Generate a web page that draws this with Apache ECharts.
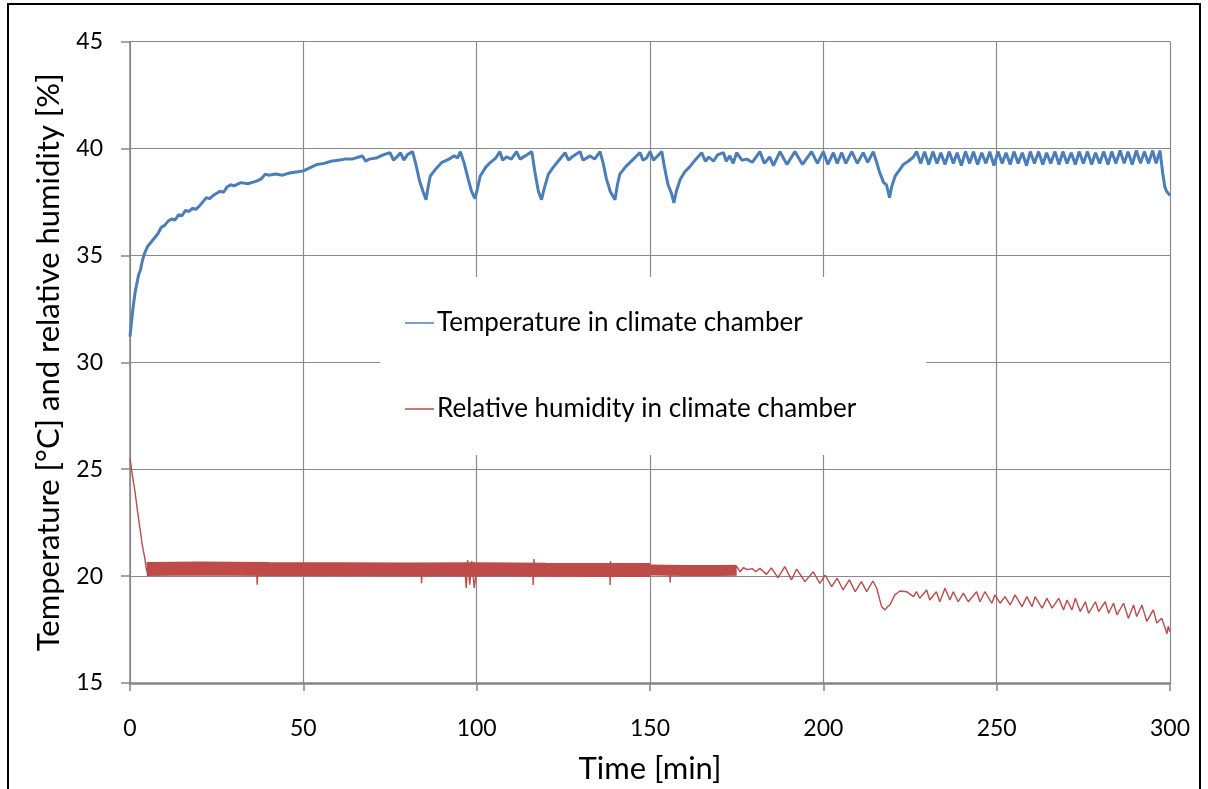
<!DOCTYPE html>
<html>
<head>
<meta charset="utf-8">
<script src="https://cdn.jsdelivr.net/npm/echarts@6/dist/echarts.min.js"></script>
<style>
html,body{margin:0;padding:0;background:#fff;}
#chart{width:1208px;height:789px;}
</style>
</head>
<body>
<div id="chart"></div>
<script>
// ---- data (time in minutes) ----
const xTicks = [0, 50, 100, 150, 200, 250, 300];
const yTicks = [15, 20, 25, 30, 35, 40, 45];
const seriesNames = ['Temperature in climate chamber', 'Relative humidity in climate chamber'];

const temperature = [
[0,31.2],[0.5,32.0],[1,32.7],[1.5,33.3],[2,33.7],[2.5,34.1],[3,34.3],[3.5,34.7],[4,35.0],[4.5,35.2],[5,35.4],[6,35.6],[7,35.8],[8,36.0],[9,36.3],[10,36.4],[11,36.6],[12,36.7],[13,36.65],[14,36.9],[15,36.85],[16,37.1],[17,37.05],[18,37.2],[19,37.15],[20,37.3],[21,37.5],[22,37.7],[23,37.65],[24,37.8],[25,37.9],[26,38.0],[27,37.95],[28,38.2],[29,38.3],[30,38.25],[32,38.4],[34,38.35],[36,38.45],[37,38.5],[38,38.6],[39,38.8],[40,38.75],[42,38.8],[44,38.75],[46,38.85],[48,38.9],[50,38.95],[52,39.1],[54,39.25],[56,39.3],[58,39.4],[60,39.45],[62,39.5],[64,39.5],[66,39.6],[67,39.65],[68,39.4],[69,39.5],[71,39.55],[73,39.7],[75,39.8],[76,39.45],[77,39.6],[78,39.8],[79,39.45],[80,39.7],[81.5,39.85],[82.4,39.3],[83.5,38.5],[84.5,38.0],[85.4,37.6],[86,38.2],[86.6,38.7],[88,39.0],[90,39.35],[92,39.5],[93.5,39.65],[94.5,39.55],[95.3,39.85],[96.4,39.3],[97.5,38.6],[98.5,38.0],[99.5,37.65],[100.2,38.1],[101,38.7],[102.5,39.1],[104,39.35],[105.5,39.55],[106.7,39.85],[107.5,39.45],[108.6,39.6],[110,39.5],[111.5,39.85],[112.5,39.5],[114,39.65],[115.9,39.85],[116.8,38.9],[117.8,38.0],[118.7,37.6],[119.6,38.2],[120.7,38.8],[122,39.1],[123.5,39.4],[125.5,39.8],[126.5,39.45],[127.5,39.6],[129.8,39.85],[130.7,39.45],[132.7,39.65],[134,39.5],[135.6,39.85],[136.5,39.3],[137.4,38.6],[138.5,38.0],[139.9,37.6],[140.6,38.3],[141.3,38.8],[143,39.15],[145.2,39.5],[147.1,39.8],[148,39.45],[149,39.55],[150,39.85],[151,39.45],[151.9,39.6],[153.4,39.85],[154.2,39.1],[155.2,38.3],[156.2,37.9],[156.9,37.45],[157.6,38.0],[158.7,38.55],[160,38.9],[161.5,39.15],[163,39.45],[164.9,39.8],[166,39.4],[167,39.6],[168.3,39.4],[169.5,39.7],[171.2,39.8],[172,39.4],[173,39.65],[174,39.3],[175,39.8],[176.5,39.45],[177.9,39.5],[179.5,39.35],[181.7,39.85],[183,39.3],[184.5,39.6],[185.6,39.2],[187.5,39.85],[189.5,39.25],[191.8,39.85],[194,39.25],[196.6,39.85],[198.3,39.3],[200,39.85],[201.3,39.25],[202.9,39.8],[204,39.3],[205.3,39.8],[206.5,39.3],[208.2,39.85],[209.8,39.3],[211.5,39.8],[212.8,39.35],[214.4,39.85],[215.3,39.4],[216.2,38.9],[217.4,38.4],[218.2,38.3],[219.1,37.7],[219.7,38.2],[220.7,38.7],[222,39.0],[223.1,39.25],[224.5,39.4],[226,39.6],[226.9,39.85],
[228.1,39.3],[229.2,39.85],[230.4,39.25],[231.6,39.85],[232.8,39.3],[233.9,39.8],[235.1,39.25],[236.3,39.85],[237.5,39.3],[238.6,39.8],[239.8,39.2],[241.0,39.85],[242.2,39.3],[243.3,39.85],[244.5,39.25],[245.7,39.8],[246.9,39.3],[248.0,39.85],[249.2,39.2],[250.4,39.85],[251.6,39.3],[252.7,39.8],[253.9,39.25],[255.0,39.85],[256.2,39.3],[257.4,39.8],[258.6,39.2],[259.7,39.85],[260.9,39.3],[262.1,39.85],[263.3,39.25],[264.4,39.8],[265.6,39.3],[266.8,39.85],[268.0,39.25],[269.1,39.85],[270.3,39.3],[271.5,39.8],[272.7,39.25],[273.8,39.85],[275.0,39.3],[276.2,39.85],[277.4,39.25],[278.5,39.8],[279.7,39.3],[280.9,39.85],[282.1,39.25],[283.2,39.85],[284.4,39.3],[285.6,39.9],[286.8,39.3],[287.9,39.85],[289.1,39.25],[290.3,39.9],[291.5,39.3],[292.6,39.85],[293.8,39.3],[295.0,39.9],[296.0,39.3],[297.1,39.9],[297.9,38.85],[298.5,38.2],[299.0,38.0],[299.5,37.9],[300,37.8]
];

// dense fluctuating humidity band (5-150 min and 150-175 min), centre values
const humidityBandA = [[4.8,20.33],[20,20.35],[40,20.33],[60,20.32],[80,20.31],[100,20.32],[120,20.3],[140,20.29],[150,20.28]];
const humidityBandB = [[150,20.28],[160,20.26],[170,20.26],[175,20.27]];

const humidity = [
[0,25.5],[0.7,24.7],[1.4,24.0],[2.2,23.0],[2.9,22.2],[3.5,21.5],[4.2,20.9],[4.8,20.25],[5.5,20.2],[6,20.3],
[36.5,20.3],[36.7,19.6],[36.9,20.3],[84,20.3],[84.1,19.66],[84.3,20.3],[96.6,20.3],[97,19.45],[97.4,20.75],[98,19.6],[98.6,20.7],[99.3,19.45],[100,20.3],
[116.2,20.3],[116.3,19.58],[116.5,20.8],[116.7,20.3],[138.4,20.3],[138.5,19.58],[138.6,20.7],[138.8,20.3],[155.7,20.25],[155.8,19.7],[156,20.25],[174,20.3],
[175,20.45],[176,20.2],[177,20.4],[178,20.3],[179.5,20.35],[180.5,20.2],[181.7,20.36],[183.6,20.08],[185,20.38],[186.9,19.93],[188.9,20.44],[190.8,19.82],[192.3,20.33],[194.7,19.74],[197.1,20.2],[199,19.66],[200.5,20.05],[202.4,19.51],[204,19.9],[205.7,19.35],[207.5,19.82],[209.2,19.27],[211,19.74],[212.5,19.27],[214.3,19.77],[215.4,19.43],[216.8,18.57],[217.8,18.42],[218.5,18.57],[219.2,18.65],[220.6,19.12],[222.1,19.3],[224.0,19.27],[226,19.04],[226.9,19.27],[227.8,18.96],[229.8,19.35],[230.7,18.88],[232.6,19.27],[233.6,18.8],[235.1,19.43],[236.5,18.88],[237.5,19.27],[238.9,18.8],[240.4,19.2],[241.8,18.8],[244.2,19.27],[245.2,18.8],[246.6,19.27],[248.6,18.73],[249.5,19.12],[251,18.73],[252.4,19.04],[253.9,18.65],[255.3,19.12],[257.3,18.57],[258.7,19.04],[260.2,18.57],[261.1,19.04],[263.1,18.5],[264.5,18.96],[266,18.5],[267.9,18.96],[269.3,18.42],[270.3,18.88],[271.7,18.42],[272.7,18.96],[274.1,18.34],[275.6,18.8],[276.5,18.26],[278.5,18.8],[279.4,18.34],[281.3,18.8],[282.3,18.26],[283.7,18.73],[284.7,18.19],[286.6,18.73],[288,18.03],[289.5,18.65],[290.4,18.11],[291.9,18.65],[293.3,17.88],[295.2,18.42],[296.2,17.8],[297.6,18.03],[298.6,17.57],[299.1,17.3],[299.5,17.65],[300,17.4]
];

const tempColor = '#4A7EBB';
const humColor = '#BE4B48';
const FONT = 'Lato';

const chart = echarts.init(document.getElementById('chart'), null, {renderer: 'canvas'});
chart.setOption({
  animation: false,
  backgroundColor: '#ffffff',
  graphic: [{
    type: 'rect', z: 100, silent: true,
    shape: {x: 8, y: 4, width: 1192, height: 800},
    style: {fill: 'none', stroke: '#000', lineWidth: 2}
  }],
  grid: {left: 130, right: 38, top: 41.5, bottom: 104, containLabel: false},
  legend: {
    orient: 'vertical',
    left: 380, top: 277,
    padding: [33, 70, 33, 25],
    backgroundColor: '#ffffff',
    itemWidth: 29, itemHeight: 1.5,
    itemGap: 60,
    icon: 'rect',
    data: seriesNames,
    textStyle: {fontFamily: FONT, fontSize: 26, color: '#000', padding: [0,0,0,-2]},
    selectedMode: false, z: 10
  },
  xAxis: {
    type: 'value', min: xTicks[0], max: xTicks[xTicks.length-1], interval: 50,
    name: 'Time [min]', nameLocation: 'middle', nameGap: 70,
    nameTextStyle: {fontFamily: FONT, fontSize: 31, color: '#000'},
    axisLine: {show: true, lineStyle: {color: '#868686', width: 2.5}},
    axisTick: {show: true, length: 8, inside: false, lineStyle: {color: '#868686', width: 1.5}},
    axisLabel: {fontFamily: FONT, fontSize: 23, color: '#000', margin: 34},
    splitLine: {show: true, lineStyle: {color: '#8a8a8a', width: 1.2}}
  },
  yAxis: {
    type: 'value', min: yTicks[0], max: yTicks[yTicks.length-1], interval: 5,
    name: 'Temperature [°C] and relative humidity [%]', nameLocation: 'middle', nameGap: 66,
    nameTextStyle: {fontFamily: FONT, fontSize: 31, color: '#000'},
    axisLine: {show: true, lineStyle: {color: '#868686', width: 1.5}},
    axisTick: {show: true, length: 9, inside: false, lineStyle: {color: '#868686', width: 1.5}},
    axisLabel: {fontFamily: FONT, fontSize: 23, color: '#000', margin: 27},
    splitLine: {show: true, lineStyle: {color: '#8a8a8a', width: 1.2}}
  },
  series: [
    {name: seriesNames[0], type: 'line', data: temperature, showSymbol: false, symbol: 'none',
     lineStyle: {color: tempColor, width: 3}, itemStyle: {color: tempColor}, z: 3},
    {name: seriesNames[1], type: 'line', data: humidity, showSymbol: false, symbol: 'none',
     lineStyle: {color: humColor, width: 1.4}, itemStyle: {color: humColor}, z: 3},
    {name: 'humidity band A', type: 'line', data: humidityBandA, showSymbol: false, symbol: 'none',
     lineStyle: {color: humColor, width: 14, cap: 'butt'}, itemStyle: {color: humColor}, z: 2},
    {name: 'humidity band B', type: 'line', data: humidityBandB, showSymbol: false, symbol: 'none',
     lineStyle: {color: humColor, width: 11, cap: 'butt'}, itemStyle: {color: humColor}, z: 2}
  ]
});
</script>
</body>
</html>
